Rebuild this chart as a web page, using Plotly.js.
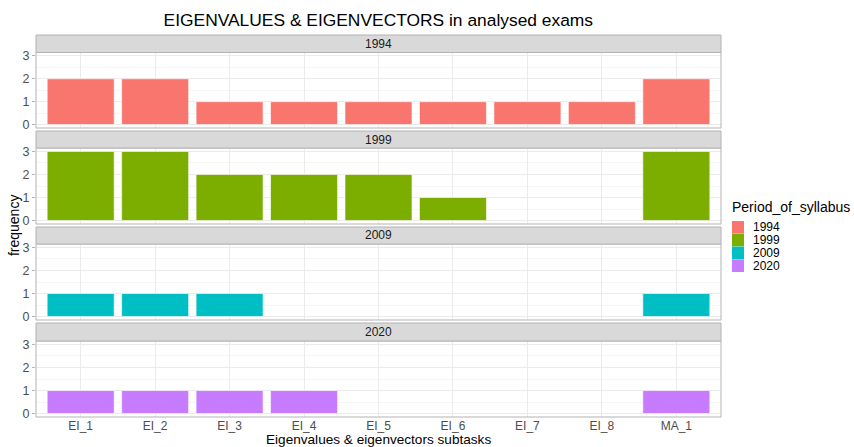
<!DOCTYPE html>
<html><head><meta charset="utf-8">
<script src="https://cdn.plot.ly/plotly-3.0.1.min.js"></script>
<style>body{margin:0;padding:0;background:#fff}#plot{width:854px;height:447px}</style>
</head><body><div id="plot"></div>
<script>
var categories = ["EI_1","EI_2","EI_3","EI_4","EI_5","EI_6","EI_7","EI_8","MA_1"];
var periods = ["1994","1999","2009","2020"];
var colors = ["#F8766D","#7CAE00","#00BFC4","#C77CFF"];
var values1994 = [2,2,1,1,1,1,1,1,2];
var values1999 = [3,3,2,2,2,1,0,0,3];
var values2009 = [1,1,1,0,0,0,0,0,1];
var values2020 = [1,1,1,1,0,0,0,0,1];
var yTicks = [0,1,2,3];
var allValues = [values1994, values1999, values2009, values2020];

var top0 = 35, bot0 = 417;
function fy(px){ return (bot0 - px) / (bot0 - top0); }
var plotW = 685;
function fx(px){ return (px-36)/plotW; }
var panels = [
  {strip:[35,52.5], panel:[52.5,128]},
  {strip:[131,148], panel:[148,224]},
  {strip:[227,244], panel:[244,320]},
  {strip:[323,341], panel:[341,417]}
];
var font = "Liberation Sans, Arial, sans-serif";
var traces = [];
var layout = {
  width:854, height:447,
  margin:{l:36, r:133, t:35, b:30},
  paper_bgcolor:"#fff", plot_bgcolor:"#fff",
  font:{family:font, color:"#4D4D4D", size:12},
  showlegend:false, bargap:0.1,
  title:{text:"EIGENVALUES & EIGENVECTORS in analysed exams", x:0.443, xanchor:"center", y:0.955, yanchor:"middle", font:{size:17.4, color:"#000", family:font}},
  shapes:[], annotations:[]
};
for (var i=0;i<4;i++){
  var sfx = i===0 ? "" : String(i+1);
  var xs=[], ys=[];
  for (var j=0;j<categories.length;j++){ if (allValues[i][j]>0){ xs.push(categories[j]); ys.push(allValues[i][j]); } }
  traces.push({type:"bar", x:xs, y:ys, xaxis:"x"+sfx, yaxis:"y"+sfx, name:periods[i],
    marker:{color:colors[i], line:{color:"rgba(255,255,255,0.6)", width:1}}, width:0.9, hoverinfo:"x+y"});
  var p = panels[i];
  var dom = [fy(p.panel[1]), fy(p.panel[0])];
  var xa = {domain:[0,1], anchor:"y"+sfx, type:"category", categoryorder:"array", categoryarray:categories,
    range:[-0.6, 8.6], showgrid:true, gridcolor:"#EBEBEB", gridwidth:1, zeroline:false,
    showticklabels: i===3, ticks:"", tickfont:{size:12, color:"#4D4D4D"}, showline:false};
  if (i>0) xa.matches = "x";
  layout["xaxis"+sfx] = xa;
  layout["yaxis"+sfx] = {domain:dom, anchor:"x"+sfx, range:[-0.15,3.15], tickvals:yTicks, ticktext:yTicks.map(String),
    showgrid:true, gridcolor:"#EBEBEB", zeroline:false, ticks:"outside", ticklen:3, tickcolor:"#B3B3B3",
    tickfont:{size:12.5, color:"#4D4D4D"}, minor:{tickvals:[0.5,1.5,2.5], showgrid:true, gridcolor:"#F5F5F5", ticks:""}};
  layout.shapes.push({type:"rect", xref:"paper", yref:"paper", x0:0, x1:1, y0:dom[0], y1:dom[1], line:{color:"#B3B3B3", width:1}, layer:"above"});
  var sd = [fy(p.strip[1]), fy(p.strip[0])];
  layout.shapes.push({type:"rect", xref:"paper", yref:"paper", x0:0, x1:1, y0:sd[0], y1:sd[1], fillcolor:"#D9D9D9", line:{color:"#B3B3B3", width:1}, layer:"above"});
  layout.annotations.push({xref:"paper", yref:"paper", x:0.5, y:(sd[0]+sd[1])/2, text:periods[i], showarrow:false, xanchor:"center", yanchor:"middle", font:{size:12, color:"#1A1A1A"}});
}
// axis titles
layout.annotations.push({xref:"paper", yref:"paper", x:-0.032, y:0.5, text:"frequency", textangle:-90, showarrow:false, xanchor:"center", yanchor:"middle", font:{size:14, color:"#000"}});
layout.annotations.push({xref:"paper", yref:"paper", x:fx(378), y:fy(439.5), text:"Eigenvalues & eigenvectors subtasks", showarrow:false, xanchor:"center", yanchor:"middle", font:{size:13.6, color:"#000"}});
// legend (drawn from periods/colors)
layout.annotations.push({xref:"paper", yref:"paper", x:fx(730), y:fy(207), text:"Period_of_syllabus", showarrow:false, xanchor:"left", yanchor:"middle", font:{size:14, color:"#000"}});
for (var k=0;k<periods.length;k++){
  var cy = 227.3 + k*12.8;
  layout.shapes.push({type:"rect", xref:"paper", yref:"paper", x0:fx(732), x1:fx(744), y0:fy(cy+6.3), y1:fy(cy-6.3), fillcolor:colors[k], line:{width:0}});
  layout.annotations.push({xref:"paper", yref:"paper", x:fx(751), y:fy(cy), text:periods[k], showarrow:false, xanchor:"left", yanchor:"middle", font:{size:12, color:"#000"}});
}
Plotly.newPlot("plot", traces, layout, {displayModeBar:false, staticPlot:true});
</script></body></html>
